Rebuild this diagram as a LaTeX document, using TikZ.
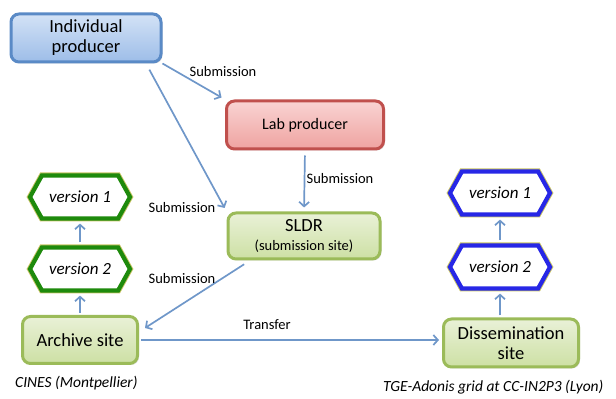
\documentclass[tikz,border=0pt]{standalone}
\usepackage{fontspec}
\setmainfont{Carlito}
\usepackage{tikz}
\usetikzlibrary{arrows.meta, shapes.symbols, shadows}

\definecolor{arrowblue}{HTML}{6F97C9}
\definecolor{indivline}{HTML}{5A8AC6}
\definecolor{indivtop}{HTML}{D3E2F6}
\definecolor{indivbot}{HTML}{9DBDE8}
\definecolor{labline}{HTML}{C0504D}
\definecolor{labtop}{HTML}{F9D3D2}
\definecolor{labbot}{HTML}{EFA3A1}
\definecolor{siteline}{HTML}{9BBB59}
\definecolor{sitetop}{HTML}{E9F1D7}
\definecolor{sitebot}{HTML}{CDE0A4}
\definecolor{hexgreen}{HTML}{1E8A0C}
\definecolor{hexblue}{HTML}{2727E6}
\definecolor{hexedge}{HTML}{C9C466}

\begin{document}
\begin{tikzpicture}[x=1pt, y=1pt,
  box/.style={rounded corners=8pt, line width=3pt, align=center, font=\fontsize{18.5}{20}\selectfont,
    drop shadow={opacity=0.25, shadow xshift=1.5pt, shadow yshift=-1.5pt}},
  indivbox/.style={box, draw=indivline, top color=indivtop, bottom color=indivbot},
  labbox/.style={box, draw=labline, top color=labtop, bottom color=labbot},
  sitebox/.style={box, draw=siteline, top color=sitetop, bottom color=sitebot},
  hexa/.style={signal, signal to=east and west, signal pointer angle=122, fill=white,
    minimum width=100pt, minimum height=43pt, inner sep=0pt, font=\fontsize{17}{19}\selectfont\itshape,
    drop shadow={opacity=0.35, shadow xshift=1.5pt, shadow yshift=-1.5pt},
    preaction={draw=hexedge, line width=6pt}, line width=4.2pt},
  greenhex/.style={hexa, draw=hexgreen},
  bluehex/.style={hexa, draw=hexblue},
  flow/.style={draw=arrowblue, line width=1.7pt, -{Straight Barb[length=4.5pt, width=10pt]}},
  lbl/.style={font=\fontsize{14.5}{16}\selectfont}]
\useasboundingbox (0,0) rectangle (616,399);

\node[indivbox, minimum width=150pt, minimum height=48pt] (indiv) at (86,361) {Individual\\producer};
\node[labbox, minimum width=157pt, minimum height=48pt, font=\fontsize{16}{18}\selectfont] (lab) at (305,274) {Lab producer};
\node[sitebox, minimum width=152pt, minimum height=46pt] (sldr) at (304,163) {SLDR\\[-1pt]{\fontsize{14.5}{16}\selectfont(submission site)}};
\node[sitebox, minimum width=115pt, minimum height=47pt] (archive) at (80,59) {Archive site};
\node[sitebox, minimum width=135pt, minimum height=48pt] (dissem) at (511,56) {Dissemination\\site};

\node[greenhex] (v1l) at (80,202) {version 1};
\node[greenhex] (v2l) at (80,130) {version 2};
\node[bluehex] (v1r) at (500,206) {version 1};
\node[bluehex] (v2r) at (500,132) {version 2};

\draw[flow, shorten >=4pt] (indiv.south east) -- (lab.north west);
\draw[flow, shorten <=7pt, shorten >=4pt] ([xshift=60pt]indiv.south) -- (sldr.north west);
\draw[flow, shorten <=5pt, shorten >=4pt] (lab.south) -- (sldr.north);
\draw[flow, shorten <=7pt] ([xshift=-54pt]sldr.south) -- ([xshift=6pt, yshift=12pt]archive.east);
\draw[flow, shorten <=2pt, shorten >=3pt] (archive.east) -- (archive.east -| dissem.west);
\draw[flow, shorten <=2pt, shorten >=3pt] (archive.north) -- (v2l.south);
\draw[flow, shorten <=3pt, shorten >=3pt] (v2l.north) -- (v1l.south);
\draw[flow, shorten <=2pt, shorten >=3pt] (dissem.north -| v2r.south) -- (v2r.south);
\draw[flow, shorten <=3pt, shorten >=3pt] (v2r.north) -- (v1r.south);

\node[lbl] (sub1) at (223,327) {Submission};
\node[lbl] (sub2) at (182,191) {Submission};
\node[lbl] (sub3) at (340,220) {Submission};
\node[lbl] (sub4) at (182,120) {Submission};
\node[lbl] (transfer) at (267,74) {Transfer};
\node[font=\fontsize{15.5}{17}\selectfont\itshape, anchor=west, inner sep=0pt] (cines) at (15,16) {CINES (Montpellier)};
\node[font=\fontsize{15.5}{17}\selectfont\itshape, anchor=west, inner sep=0pt] (tge) at (383,12) {TGE-Adonis grid at CC-IN2P3 (Lyon)};
\end{tikzpicture}
\end{document}
